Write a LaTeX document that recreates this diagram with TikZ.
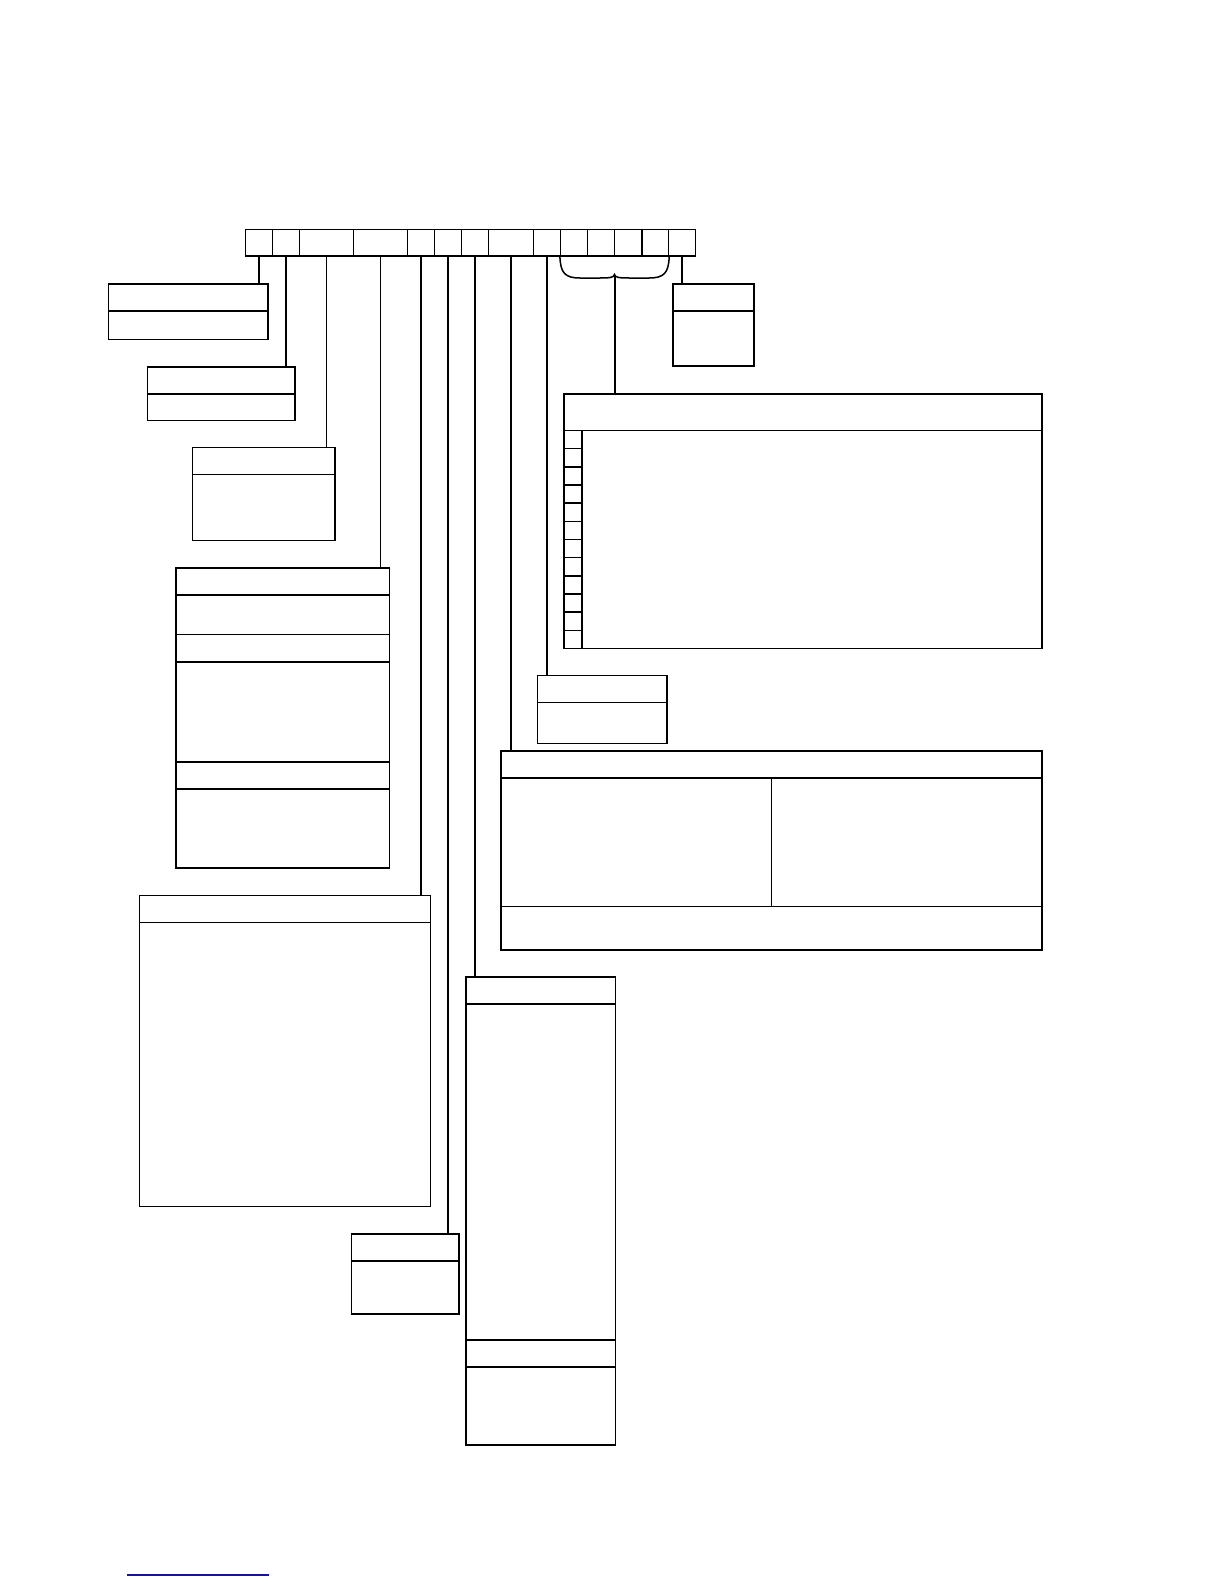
\documentclass[tikz,border=0pt]{standalone}
\usepackage{tikz}
\usetikzlibrary{fit}

\tikzset{
  cell/.style={draw, line width=0.6pt, inner sep=0pt},
  box/.style={draw, line width=0.75pt, inner sep=0pt},
  rule/.style={line width=0.75pt},
  thicklink/.style={line width=1pt},
  thinlink/.style={line width=0.5pt},
}
\definecolor{footblue}{RGB}{20,20,150}

\begin{document}
\begin{tikzpicture}[x=0.5pt, y=-0.5pt]
\useasboundingbox (0,0) rectangle (1224,1584);

% top bar of fields
\foreach \i/\a/\b in {1/245.3/272.5, 2/272.5/299.6, 3/299.6/353.5, 4/353.5/407.6,
  5/407.6/434.8, 6/434.8/461.5, 7/461.5/488.6, 8/488.6/533.4, 9/533.4/560.5,
  10/560.5/587.6, 11/587.6/614.8, 12/614.8/641.9, 13/641.9/668.6, 14/668.6/695.5}
  \node[cell, fit={(\a,229.5) (\b,256)}] (c\i) {};

% boxes
\node[box, fit={(108.5,284) (268,339.5)}] (boxA) {};
\node[box, fit={(147.5,367) (295,420.5)}] (boxB) {};
\node[box, fit={(192.5,447.5) (335,540.5)}] (boxC) {};
\node[box, fit={(176,568) (389.5,868)}] (boxD) {};
\node[box, fit={(139.5,895.5) (430.5,1206.5)}] (boxE) {};
\node[box, fit={(351.5,1233.8) (459,1314)}] (boxF) {};
\node[box, fit={(465.8,977) (615.7,1445)}] (boxG) {};
\node[box, fit={(501,751) (1042,950)}] (boxH) {};
\node[box, fit={(537.6,675.5) (667,743.7)}] (boxI) {};
\node[box, fit={(564,394) (1041.8,648.5)}] (boxJ) {};
\node[box, fit={(673,284) (753.8,365.8)}] (boxK) {};

% dividers
\draw[rule] (boxA.west |- 0,311) -- (boxA.east |- 0,311);
\draw[rule] (boxB.west |- 0,394) -- (boxB.east |- 0,394);
\draw[rule] (boxC.west |- 0,474.7) -- (boxC.east |- 0,474.7);
\foreach \y in {595,634.6,662,762,789}
  \draw[rule] (boxD.west |- 0,\y) -- (boxD.east |- 0,\y);
\draw[rule] (boxE.west |- 0,922.5) -- (boxE.east |- 0,922.5);
\draw[rule] (boxF.west |- 0,1261) -- (boxF.east |- 0,1261);
\foreach \y in {1004,1340,1367}
  \draw[rule] (boxG.west |- 0,\y) -- (boxG.east |- 0,\y);
\draw[rule] (boxH.west |- 0,778) -- (boxH.east |- 0,778);
\draw[rule] (boxH.west |- 0,906.5) -- (boxH.east |- 0,906.5);
\draw[rule] (boxH.north |- 0,778) -- (boxH.north |- 0,906.5);
\draw[rule] (boxI.west |- 0,702.5) -- (boxI.east |- 0,702.5);
\draw[rule] (boxK.west |- 0,311) -- (boxK.east |- 0,311);
\draw[rule] (boxJ.west |- 0,430.5) -- (boxJ.east |- 0,430.5);
\draw[rule] (582,430.5) -- (582,0 |- boxJ.south);
\foreach \k in {1,...,11}
  \draw[rule] (boxJ.west |- 0,{430.5+18.17*\k}) -- (582,{430.5+18.17*\k});

% connectors
\draw[thicklink] (c1.south) -- (c1.south |- boxA.north);
\draw[thicklink] (c2.south) -- (c2.south |- boxB.north);
\draw[thinlink] (c3.south) -- (c3.south |- boxC.north);
\draw[thinlink] (c4.south) -- (c4.south |- boxD.north);
\draw[thicklink] (c5.south) -- (c5.south |- boxE.north);
\draw[thicklink] (c6.south) -- (c6.south |- boxF.north);
\draw[thicklink] (c7.south) -- (c7.south |- boxG.north);
\draw[thicklink] (c8.south) -- (c8.south |- boxH.north);
\draw[thicklink] (c9.south) -- (c9.south |- boxI.north);
\draw[thicklink] (c14.south) -- (c14.south |- boxK.north);

% brace under fields 10 to 13
\coordinate (bracetip) at (614.5,274.5);
\draw[line width=0.75pt] (c10.south west) .. controls (560.5,273) and (565,278) .. (580,278)
  -- (600,278) .. controls (610,278) and (614,277.5) .. (bracetip)
  .. controls (615,277.5) and (619,278) .. (629,278) -- (649,278)
  .. controls (664,278) and (668.6,273) .. (c13.south east);
\draw[thicklink] (bracetip) -- (bracetip |- boxJ.north);

% footnote rule
\draw[footblue, line width=0.6pt] (127,1575) -- (269,1575);
\end{tikzpicture}
\end{document}
